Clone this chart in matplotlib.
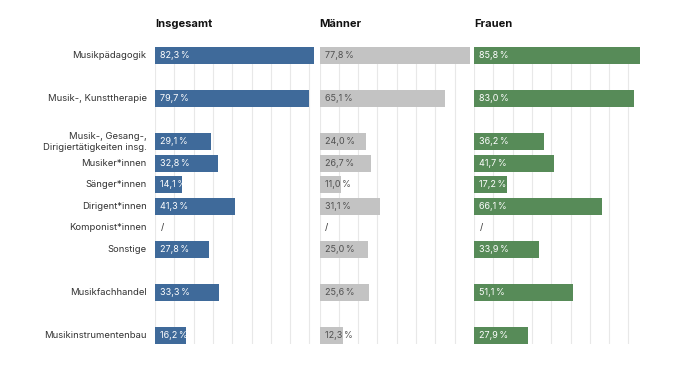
import numpy as np
import matplotlib
matplotlib.use("Agg")
import matplotlib.pyplot as plt

plt.rcParams["font.family"] = ["Inter", "DejaVu Sans"]

# ----- data -----
categories = [
    "Musikpädagogik",
    "Musik-, Kunsttherapie",
    "Musik-, Gesang-,\nDirigiertätigkeiten insg.",
    "Musiker*innen",
    "Sänger*innen",
    "Dirigent*innen",
    "Komponist*innen",
    "Sonstige",
    "Musikfachhandel",
    "Musikinstrumentenbau",
]
# blocks of rows, a blank row is left between blocks
groups = [0, 1, 2, 2, 2, 2, 2, 2, 3, 4]

panels = ["Insgesamt", "Männer", "Frauen"]
insgesamt = [82.3, 79.7, 29.1, 32.8, 14.1, 41.3, None, 27.8, 33.3, 16.2]
maenner = [77.8, 65.1, 24.0, 26.7, 11.0, 31.1, None, 25.0, 25.6, 12.3]
frauen = [85.8, 83.0, 36.2, 41.7, 17.2, 66.1, None, 33.9, 51.1, 27.9]
series = [insgesamt, maenner, frauen]

bar_colors = ["#3f6a9a", "#c3c3c3", "#578b58"]
text_colors = ["white", "#505050", "white"]

# ----- layout (pixels of a 675x368 figure) -----
W, H = 675, 368
px_per_pct = 1.93
panel_left = [155, 319.5, 474]
axes_top, axes_bottom = 46.7, 344.4

ypos = np.arange(len(categories)) + np.array(groups)


def fmt(v):
    return f"{v:.1f}".replace(".", ",") + "\u202f%"


fig = plt.figure(figsize=(W / 100, H / 100), dpi=100)

for p, (name, vals) in enumerate(zip(panels, series)):
    vmax = max(v for v in vals if v is not None)
    left = panel_left[p]
    width = vmax * px_per_pct
    ax = fig.add_axes([left / W, 1 - axes_bottom / H, width / W, (axes_bottom - axes_top) / H])
    ax.set_xlim(0, vmax)
    ax.set_ylim(ypos.max() + 0.4, -0.4)

    for y, v in zip(ypos, vals):
        if v is None:
            ax.annotate("/", (0, y), xytext=(4, 0), textcoords="offset points",
                        va="center", ha="left", fontsize=6.5, color="#333333")
            continue
        ax.barh(y, v, height=0.79, color=bar_colors[p], zorder=2)
        ax.annotate(fmt(v), (0, y), xytext=(3.8, 0), textcoords="offset points",
                    va="center", ha="left", fontsize=6.5, color=text_colors[p], zorder=3)

    ax.set_xticks(np.arange(0, vmax + 0.01, 10))
    ax.grid(axis="x", color="#e8e8e8", linewidth=0.8, zorder=0)
    ax.set_yticks([])
    ax.tick_params(axis="x", length=0, labelbottom=False)
    for s in ax.spines.values():
        s.set_visible(False)

    fig.text(left / W, 1 - 24 / H, name, fontsize=8, fontweight="bold",
             ha="left", va="center", color="#111111")

    if p == 0:
        for y, cat in zip(ypos, categories):
            ax.annotate(cat, (0, y), xytext=(-6, 0), textcoords="offset points",
                        va="center", ha="right", fontsize=6.8, color="#333333",
                        linespacing=1.3, annotation_clip=False)

fig.savefig("out.png", dpi=100)
